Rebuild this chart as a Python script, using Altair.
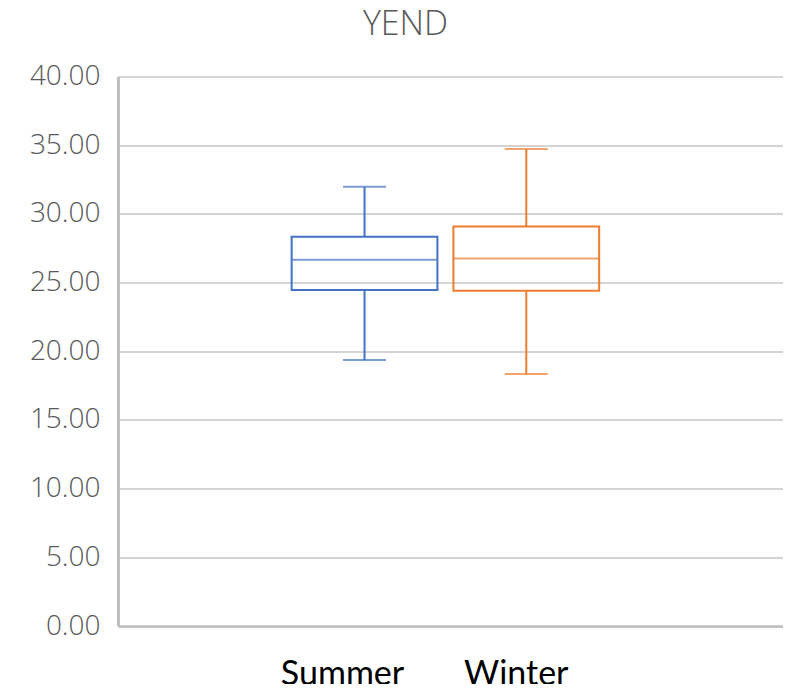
import altair as alt
import pandas as pd

series = ["Summer", "Winter"]
whisker_low = [19.36, 18.34]
quartile_1 = [24.45, 24.40]
medians = [26.66, 26.76]
quartile_3 = [28.33, 29.09]
whisker_high = [31.97, 34.72]
colors = ["#4472C4", "#ED7D31"]
y_ticks = [0, 5, 10, 15, 20, 25, 30, 35, 40]
# blank slots on each side of the two boxes (empty category labels)
x_domain = [""] + series + [" "]

df = pd.DataFrame({
    "series": series,
    "low": whisker_low,
    "q1": quartile_1,
    "median": medians,
    "q3": quartile_3,
    "high": whisker_high,
})

x_enc = alt.X(
    "series:N", title=None,
    scale=alt.Scale(domain=x_domain, paddingInner=0.0988, paddingOuter=0.105, align=0.35),
    axis=alt.Axis(
        labelFont="Lato", labelFontSize=34, labelColor="#000000", labelAngle=0,
        labelPadding=58, labelBaseline="alphabetic", ticks=False,
        domainColor="#BFBFBF", domainWidth=2.5,
        labelOffset={"condition": {"test": "datum.value == 'Summer'", "value": -22}, "value": -10},
    ),
)
color_enc = alt.Color("series:N", scale=alt.Scale(domain=series, range=colors), legend=None)
y_scale = alt.Scale(domain=[0, 40], nice=False, zero=True)

base = alt.Chart(df)

box = base.mark_bar(filled=False, strokeWidth=2).encode(
    x=x_enc,
    y=alt.Y("q1:Q", scale=y_scale, title=None,
            axis=alt.Axis(values=y_ticks, format=".2f", labelFont="Open Sans",
                          labelFontSize=28, labelFontWeight=300, labelColor="#595959",
                          labelPadding=18, ticks=False, domainColor="#BFBFBF", domainWidth=3,
                          gridColor="#D4D4D4", gridWidth=2)),
    y2="q3:Q",
    color=color_enc,
)
low_rule = base.mark_rule(strokeWidth=2).encode(x=x_enc, y=alt.Y("low:Q", scale=y_scale), y2="q1:Q", color=color_enc)
high_rule = base.mark_rule(strokeWidth=2).encode(x=x_enc, y=alt.Y("q3:Q", scale=y_scale), y2="high:Q", color=color_enc)
low_cap = base.mark_tick(size=43, thickness=2).encode(x=x_enc, y=alt.Y("low:Q", scale=y_scale), color=color_enc)
high_cap = base.mark_tick(size=43, thickness=2).encode(x=x_enc, y=alt.Y("high:Q", scale=y_scale), color=color_enc)
median_tick = base.mark_tick(size=146, thickness=2).encode(x=x_enc, y=alt.Y("median:Q", scale=y_scale), color=color_enc)

chart = alt.layer(box, low_rule, high_rule, low_cap, high_cap, median_tick).properties(
    width=665, height=549.5,
    title=alt.TitleParams("YEND", font="Open Sans", fontSize=34, fontWeight=300,
                          color="#595959", offset=-6, dx=-45, baseline="alphabetic"),
    autosize=alt.AutoSizeParams(type="none"),
    padding={"left": 110, "top": 68.5, "right": 0, "bottom": 58},
).configure_view(stroke=None)

chart.save("out.html", embed_options={"renderer": "svg", "actions": False})
